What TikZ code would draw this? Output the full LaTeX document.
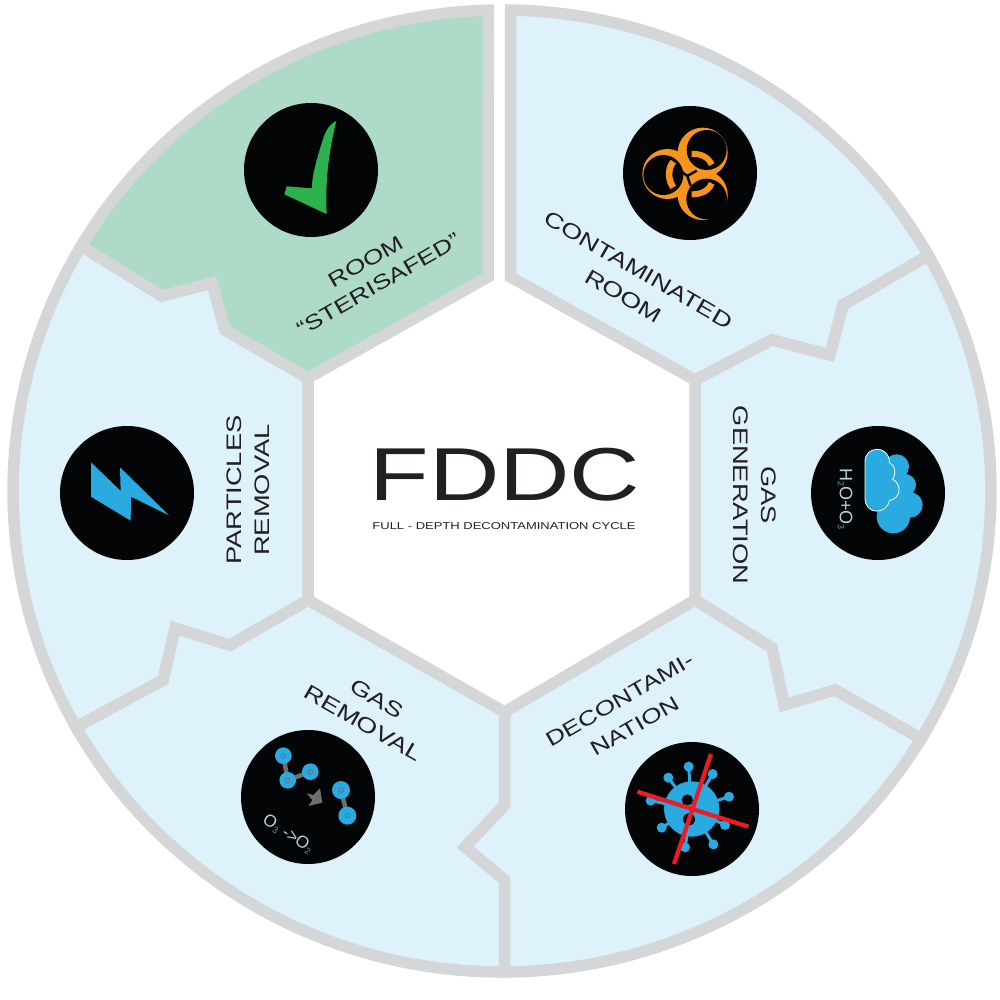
\documentclass[tikz,border=0pt]{standalone}
\usepackage{fontspec}
\usepackage{xcolor}
\usepackage{tikz}
\usetikzlibrary{positioning, calc}
\newfontfamily\widefont[FakeStretch=1.3]{Liberation Sans}
\newfontfamily\plainfont{Liberation Sans}
\definecolor{ringgray}{HTML}{D4D6D8}
\definecolor{roomblue}{HTML}{DEF2FC}
\definecolor{roomgreen}{HTML}{AEDBC8}
\definecolor{iconblue}{HTML}{29ABE2}
\definecolor{icongreen}{HTML}{2BB24C}
\definecolor{iconorange}{HTML}{F7941D}
\definecolor{iconred}{HTML}{ED1C24}
\definecolor{icongray}{HTML}{6D6E71}
\definecolor{icontext}{HTML}{BCD4DB}
\definecolor{titleblack}{HTML}{231F20}
\definecolor{discblack}{HTML}{030507}

\begin{document}
\begin{tikzpicture}[
    x=1pt, y=-1pt,
    sector/.style={draw=ringgray, line width=11.5pt, fill=roomblue, line join=miter},
    disc/.style={circle, fill=discblack, minimum size=134pt, inner sep=0pt},
    label/.style={font=\widefont\fontsize{21}{28}\selectfont, text=titleblack, align=center, inner sep=0pt},
    bond/.style={draw=icongray, line width=4.5pt}
]
\useasboundingbox (0,0) rectangle (1000,1000);

\coordinate (cc) at (502,491);
\coordinate (hexTL) at (488,277);
\coordinate (hexTR) at (510.5,277);
\coordinate (hexR) at (695,380);
\coordinate (hexBR) at (695,600);
\coordinate (hexB) at (504.5,712);
\coordinate (hexBL) at (308,600);
\coordinate (hexL) at (308,378);

% Sectors
\draw[sector] (cc)+(-89:489 and 481) arc[start angle=-89, end angle=-29.3, x radius=489, y radius=481] -- (843,305) -- (830,355) -- (772,340) -- (hexR) -- (hexTR) -- cycle;
\draw[sector] (cc)+(-29.3:489 and 481) arc[start angle=-29.3, end angle=31, x radius=489, y radius=481] -- (835,690) -- (784,705) -- (772,648) -- (hexBR) -- (hexR) -- (772,340) -- (830,355) -- (843,305) -- cycle;
\draw[sector] (cc)+(31:489 and 481) arc[start angle=31, end angle=89.7, x radius=489, y radius=481] -- (504.5,880) -- (465,847) -- (504.5,805) -- (hexB) -- (hexBR) -- (772,648) -- (784,705) -- (835,690) -- cycle;
\draw[sector] (cc)+(89.7:489 and 481) arc[start angle=89.7, end angle=150.6, x radius=489, y radius=481] -- (163,680) -- (175,628) -- (230,645) -- (hexBL) -- (hexB) -- (504.5,805) -- (465,847) -- (504.5,880) -- cycle;
\draw[sector] (cc)+(150.6:489 and 481) arc[start angle=150.6, end angle=210.6, x radius=489, y radius=481] -- (162,296) -- (212,283) -- (225,330) -- (hexL) -- (hexBL) -- (230,645) -- (175,628) -- (163,680) -- cycle;
\draw[sector, fill=roomgreen] (cc)+(210.6:489 and 481) arc[start angle=210.6, end angle=268.4, x radius=489, y radius=481] -- (hexTL) -- (hexL) -- (225,330) -- (212,283) -- (162,296) -- cycle;

% Icon discs
\node[disc] (biohazard) at (690,173) {};
\node[disc] (cloud) at (878,493) {};
\node[disc] (virus) at (692,809) {};
\node[disc] (oxygen) at (308,797) {};
\node[disc] (bolt) at (127,493) {};
\node[disc] (tick) at (311,170) {};

% Labels
\node[label, rotate=-30, font=\widefont\fontsize{21}{30}\selectfont] (contaminated) at (631,283) {CONTAMINATED\\ROOM};
\node[label, rotate=-90] (generation) at (755,495) {GAS\\GENERATION};
\node[label, rotate=30, font=\widefont\fontsize{20.5}{30}\selectfont] (decontamination) at (627,713) {DECONTAMI-\\NATION};
\node[label, rotate=-30] (removal) at (370,711) {GAS\\REMOVAL};
\node[label, rotate=90] (particles) at (248,490) {PARTICLES\\REMOVAL};
\node[label, rotate=30, font=\widefont\fontsize{20.5}{26}\selectfont] (sterisafed) at (372,273) {ROOM\\“STERISAFED”};

% Title
\node[font=\widefont\fontsize{75}{75}\selectfont, text=titleblack, inner sep=0pt] (fddc) at (505,475) {FDDC};
\node[font=\widefont\fontsize{10}{10}\selectfont, text=titleblack, inner sep=0pt] (fullname) at (504,526) {FULL - DEPTH DECONTAMINATION CYCLE};

% Tick
\begin{scope}[shift={(230,90)}, scale=1/3]
\fill[icongreen] (319,93) .. controls (295,105) and (285,125) .. (275,160) .. controls (258,215) and (248,250) .. (245,295) -- (170,289) -- (163,313) -- (290,372) .. controls (285,280) and (295,190) .. (319,93) -- cycle;
\end{scope}

% Bolt
\begin{scope}[shift={(40,410)}, scale=1/3]
\fill[iconblue] (153,157) -- (242,243) -- (240,172) -- (387,316) -- (273,260) -- (272,332) -- (153,260) -- cycle;
\end{scope}

% Biohazard
\begin{scope}[shift={(600,100)}, scale=1/3]
\fill[iconorange] (308,158) circle (75);
\fill[iconorange] (202,222) circle (75);
\fill[iconorange] (308,285) circle (75);
\fill[iconorange] (262,222) circle (45);
\fill[discblack] (320,150) circle (60);
\fill[discblack] (190,225) circle (60);
\fill[discblack] (320,297) circle (61);
\draw[iconorange, line width=6.5pt] (220,185) .. controls (203,205) and (203,240) .. (220,262);
\draw[iconorange, line width=6pt] (275,162) .. controls (300,160) and (325,170) .. (335,194);
\draw[iconorange, line width=6pt] (275,283) .. controls (300,283) and (325,275) .. (335,250);
\draw[discblack, line width=2.5pt] (262,228) -- (238,210) (262,228) -- (290,212) (262,228) -- (272,258);
\end{scope}

% Cloud
\begin{scope}[shift={(790,410)}, scale=1/3]
\fill[iconblue] (320,170) circle (37) (345,225) circle (33) (360,285) circle (38) (310,320) circle (50);
\fill[iconblue] (280,150) rectangle (345,320);
\draw[white, line width=0.8pt, fill=iconblue] (225,155) .. controls (225,105) and (300,105) .. (298,158) .. controls (315,165) and (320,190) .. (308,208) .. controls (335,220) and (335,265) .. (298,272) .. controls (290,315) and (225,315) .. (225,265) -- cycle;
\end{scope}
\node[rotate=-90, inner sep=0pt, text=icontext, font=\plainfont\fontsize{18}{18}\selectfont] (water) at (845,499) {H\textcolor{iconblue}{\fontsize{9}{9}\selectfont\raisebox{-2pt}{2}}O+O\textcolor{iconblue}{\fontsize{9}{9}\selectfont\raisebox{-2pt}{3}}};

% Virus
\begin{scope}[shift={(610,730)}, scale=1/3]
\foreach \bx/\by in {236/110, 175/143, 308/132, 357/200, 345/285, 310/343, 225/352, 155/293, 122/212} {
  \draw[iconblue, line width=3pt] (245,237) -- (\bx,\by);
  \fill[iconblue] (\bx,\by) circle (15);
}
\fill[iconblue] (245,237) circle (83);
\fill[discblack] (232,210) circle (17) (237,268) circle (18);
\draw[iconred, line width=4.3pt] (82,185) -- (415,290);
\draw[iconred, line width=4.3pt] (303,72) -- (192,402);
\end{scope}

% Molecules
\begin{scope}[shift={(225,720)}, scale=1/3]
\draw[bond] (175,107) -- (188,181) -- (256,155);
\draw[bond] (348,210) -- (367,287);
\foreach \mx/\my/\mr in {175/107/25, 188/181/25, 256/155/25, 348/210/27, 367/287/27} {
  \fill[iconblue] (\mx,\my) circle (\mr);
  \draw[icongray, line width=0.8pt] (\mx,\my) circle (7);
}
\fill[icongray] (285,205) -- (292,248) -- (250,258) -- (262,240) -- (245,220) -- (265,225) -- cycle;
\end{scope}
\node[rotate=-33, inner sep=0pt, text=icontext, font=\plainfont\fontsize{17}{17}\selectfont] (ozone) at (288,834) {O\textcolor{iconblue}{\fontsize{9}{9}\selectfont\raisebox{-2pt}{3}} ->O\textcolor{iconblue}{\fontsize{9}{9}\selectfont\raisebox{-2pt}{2}}};

\end{tikzpicture}
\end{document}
